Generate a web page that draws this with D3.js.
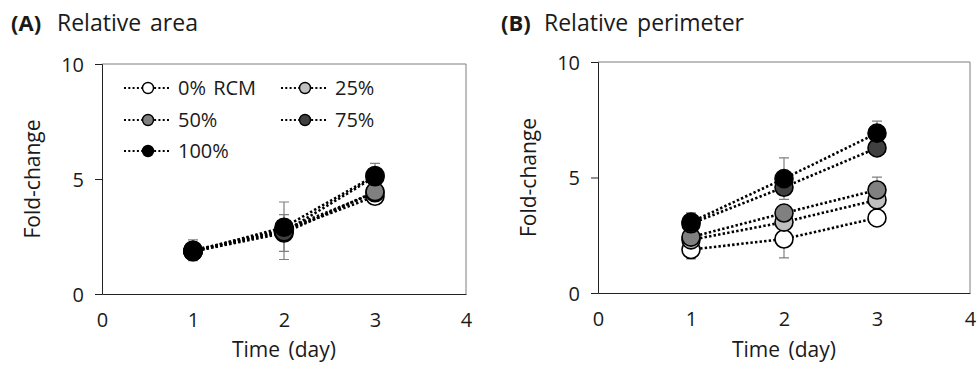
<!DOCTYPE html>
<html><head><meta charset="utf-8">
<script src="https://cdn.jsdelivr.net/npm/d3@7"></script>
<style>body{margin:0;background:#fff}svg{display:block}text{font-family:"Open Sans",sans-serif;fill:#1a1a1a}</style>
</head><body><svg id="c" width="980" height="372"></svg>
<script>
const days = [1, 2, 3];
const seriesNames = ["0% RCM", "25%", "50%", "75%", "100%"];
const seriesFill = ["#ffffff", "#c0c0c0", "#808080", "#404040", "#000000"];
const xTicks = [0, 1, 2, 3, 4];
const yTicks = [0, 5, 10];
// Panel A: relative area
const areaMean = [
  [1.9, 2.75, 4.25],
  [1.9, 2.8, 4.4],
  [1.85, 2.65, 4.45],
  [1.85, 2.7, 5.1],
  [1.85, 2.9, 5.15]
];
const areaErr = [
  [0.45, 1.25, 0.3],
  [0.3, 0.3, 0.3],
  [0.3, 0.8, 0.3],
  [0.3, 0.3, 0.3],
  [0.3, 0.35, 0.53]
];
// Panel B: relative perimeter
const periMean = [
  [1.88, 2.34, 3.25],
  [2.3, 3.07, 4.03],
  [2.42, 3.46, 4.46],
  [3.0, 4.58, 6.28],
  [3.07, 4.95, 6.92]
];
const periErr = [
  [0.4, 0.82, 0.3],
  [0.3, 0.3, 0.3],
  [0.3, 0.3, 0.56],
  [0.3, 0.3, 0.3],
  [0.4, 0.9, 0.52]
];
const panels = [
  {label:"(A)", title:"Relative area", mean:areaMean, err:areaErr, x0:102, x1:466, y0:64, y1:294, lx:11, tx:57, legend:true},
  {label:"(B)", title:"Relative perimeter", mean:periMean, err:periErr, x0:598, x1:970, y0:62, y1:293, lx:501, tx:544, legend:false}
];
const svg = d3.select("#c");
panels.forEach(p => {
  const g = svg.append("g");
  const x = d3.scaleLinear().domain([0,4]).range([p.x0,p.x1]);
  const y = d3.scaleLinear().domain([0,10]).range([p.y1,p.y0]);
  g.append("text").attr("x",p.lx).attr("y",31).attr("font-size",22).attr("font-weight","bold").text(p.label);
  g.append("text").attr("x",p.tx).attr("y",31).attr("font-size",23).attr("word-spacing",3).text(p.title);
  g.append("path").attr("d",`M${p.x0},${p.y0}H${p.x1}V${p.y1}`).attr("fill","none").attr("stroke","#7f7f7f").attr("stroke-width",1);
  const ya = g.append("g").attr("transform",`translate(${p.x0},0)`).call(d3.axisLeft(y).tickValues(yTicks).tickSize(7).tickPadding(11).tickFormat(d3.format("d")));
  ya.select(".domain").attr("stroke","#222");
  ya.selectAll(".tick line").attr("stroke","#222");
  ya.selectAll("text").attr("font-size",20).attr("font-family","Open Sans").attr("fill","#1a1a1a").attr("dy","0.36em");
  const xa = g.append("g").attr("transform",`translate(0,${p.y1})`).call(d3.axisBottom(x).tickValues(xTicks).tickSize(0).tickPadding(19).tickFormat(d3.format("d")));
  xa.select(".domain").attr("stroke","#222");
  xa.selectAll("text").attr("font-size",20).attr("font-family","Open Sans").attr("fill","#1a1a1a");
  g.append("text").attr("x",(x(2))).attr("y",357).attr("text-anchor","middle").attr("font-size",21).attr("word-spacing",3).text("Time (day)");
  g.append("text").attr("transform",`translate(${p.x0-62},${(p.y0+p.y1)/2}) rotate(-90)`).attr("text-anchor","middle").attr("font-size",21).text("Fold-change");
  const line = d3.line().x((d,i)=>x(days[i])).y(d=>y(d));
  p.mean.forEach((s,si) => {
    s.forEach((v,i) => {
      const e = p.err[si][i], cx = x(days[i]);
      g.append("path").attr("d",`M${cx},${y(v-e)}V${y(v+e)}M${cx-5},${y(v-e)}H${cx+5}M${cx-5},${y(v+e)}H${cx+5}`)
        .attr("stroke","#808080").attr("stroke-width",1.2).attr("fill","none");
    });
  });
  p.mean.forEach((s,si) => {
    g.append("path").attr("d",line(s)).attr("fill","none").attr("stroke","#000").attr("stroke-width",2.6).attr("stroke-dasharray","2.4,2.2");
  });
  p.mean.forEach((s,si) => {
    g.selectAll(null).data(s).enter().append("circle")
      .attr("cx",(d,i)=>x(days[i])).attr("cy",d=>y(d)).attr("r",9)
      .attr("fill",seriesFill[si]).attr("stroke","#000").attr("stroke-width",1.6);
  });
  if (p.legend) {
    const pos = [[148,88],[305,88],[148,120],[305,120],[148,151]];
    seriesNames.forEach((n,si) => {
      const [mx,my] = pos[si];
      const lg = g.append("g");
      lg.append("path").attr("d",`M${mx-24},${my}H${mx+22}`).attr("stroke","#000").attr("stroke-width",2.2).attr("stroke-dasharray","2,2.3");
      lg.append("circle").attr("cx",mx).attr("cy",my).attr("r",5.5).attr("fill",seriesFill[si]).attr("stroke","#000").attr("stroke-width",1.4);
      lg.append("text").attr("x",mx+30).attr("y",my+7).attr("font-size",20).attr("word-spacing",2).text(n);
    });
  }
});
</script></body></html>
